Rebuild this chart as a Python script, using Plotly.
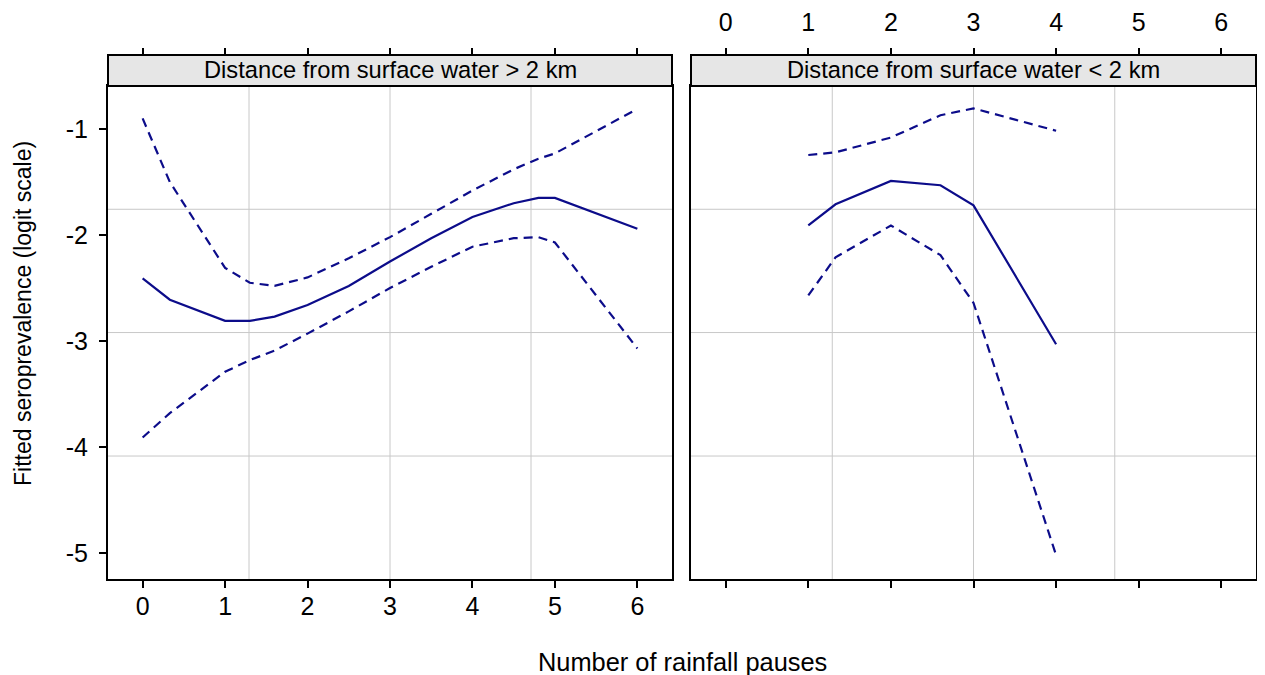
import plotly.graph_objects as go

# ---- data ----
panel_titles = ["Distance from surface water > 2 km", "Distance from surface water < 2 km"]

far_x = [0, 0.33, 1, 1.3, 1.6, 2, 2.5, 3, 3.5, 4, 4.5, 4.8, 5, 6]
far_fit = [-2.41, -2.61, -2.81, -2.81, -2.77, -2.66, -2.48, -2.25, -2.03, -1.83, -1.70, -1.65, -1.65, -1.94]
far_upper = [-0.90, -1.50, -2.31, -2.45, -2.48, -2.40, -2.22, -2.02, -1.80, -1.58, -1.38, -1.28, -1.23, -0.81]
far_lower = [-3.91, -3.68, -3.29, -3.18, -3.09, -2.93, -2.72, -2.50, -2.30, -2.11, -2.03, -2.02, -2.07, -3.07]

near_x = [1, 1.33, 2, 2.6, 3, 4]
near_fit = [-1.91, -1.71, -1.49, -1.53, -1.72, -3.03]
near_upper = [-1.245, -1.22, -1.08, -0.87, -0.805, -1.016]
near_lower = [-2.57, -2.21, -1.91, -2.19, -2.64, -5.02]

x_ticks = [0, 1, 2, 3, 4, 5, 6]
y_ticks = [-5, -4, -3, -2, -1]
y_tick_labels = ["-5", "-4", "-3", "-2", "-1"]
ref_x = [1.29, 3.0, 4.71]
ref_y = [-1.757, -2.92, -4.085]

x_title = "Number of rainfall pauses"
y_title = "Fitted seroprevalence (logit scale)"

# ---- styling ----
OFF = 8                       # page body margin
W, H = 1265 - OFF, 675 - OFF
LINE = "#0c0c8a"
FONT = "Liberation Sans, Arial, sans-serif"
XR = [-0.42, 6.42]
YR = [-5.245, -0.594]


def px(x):
    return (x - OFF) / W


def py(y):
    return 1 - (y - OFF) / H


L_DOM = [px(108), px(672)]
R_DOM = [px(691), px(1256)]
Y_DOM = [py(579), py(86)]
STRIP_TOP = py(55)

fig = go.Figure()


def add_panel(xs, fit, up, lo, xa, ya):
    for ys, dash in ((up, "9px,6px"), (lo, "9px,6px"), (fit, "solid")):
        fig.add_trace(go.Scatter(x=xs, y=ys, mode="lines", xaxis=xa, yaxis=ya,
                                 line=dict(color=LINE, width=2.2, dash=dash),
                                 showlegend=False, hoverinfo="skip"))


add_panel(far_x, far_fit, far_upper, far_lower, "x", "y")
add_panel(near_x, near_fit, near_upper, near_lower, "x2", "y2")
# dummy traces so the top (strip-level) axes are drawn
fig.add_trace(go.Scatter(x=[], y=[], xaxis="x3", yaxis="y", showlegend=False))
fig.add_trace(go.Scatter(x=[], y=[], xaxis="x4", yaxis="y2", showlegend=False))

tickfont = dict(family=FONT, size=25, color="black")
common_x = dict(range=XR, tickvals=x_ticks, ticks="outside", ticklen=7, tickwidth=2,
                tickcolor="black", showgrid=False, zeroline=False, tickfont=tickfont)

fig.update_layout(
    width=W, height=H, margin=dict(l=0, r=0, t=0, b=0),
    paper_bgcolor="white", plot_bgcolor="white",
    xaxis=dict(domain=L_DOM, anchor="y", showline=True, linecolor="black", linewidth=2,
               mirror=True, ticklabelstandoff=-3, **common_x),
    xaxis2=dict(domain=R_DOM, anchor="y2", showline=True, linecolor="black", linewidth=2,
                mirror=True, showticklabels=False, **common_x),
    xaxis3=dict(overlaying="x", anchor="free", position=STRIP_TOP, side="top",
                showline=False, showticklabels=False, **common_x),
    xaxis4=dict(overlaying="x2", anchor="free", position=STRIP_TOP, side="top",
                showline=False, showticklabels=True, ticklabelstandoff=7, **common_x),
    yaxis=dict(domain=Y_DOM, anchor="x", range=YR, tickvals=y_ticks, ticktext=y_tick_labels,
               ticks="outside", ticklen=7, tickwidth=2, tickcolor="black", showline=True,
               linecolor="black", linewidth=2, mirror=True, showgrid=False, zeroline=False,
               tickfont=tickfont, ticklabelstandoff=6),
    yaxis2=dict(domain=Y_DOM, anchor="x2", range=YR, tickvals=y_ticks, side="right",
                ticks="outside", ticklen=7, tickwidth=2, tickcolor="black", showline=True,
                linecolor="black", linewidth=2, mirror=True, showgrid=False, zeroline=False,
                showticklabels=False),
)

shapes = []
for xa, ya in (("x", "y"), ("x2", "y2")):
    for v in ref_x:
        shapes.append(dict(type="line", xref=xa, yref=ya + " domain", x0=v, x1=v, y0=0, y1=1,
                           line=dict(color="#c8c8c8", width=1), layer="below"))
    for v in ref_y:
        shapes.append(dict(type="line", xref=xa + " domain", yref=ya, x0=0, x1=1, y0=v, y1=v,
                           line=dict(color="#c8c8c8", width=1), layer="below"))
annotations = []
for dom, title in ((L_DOM, panel_titles[0]), (R_DOM, panel_titles[1])):
    shapes.append(dict(type="rect", xref="paper", yref="paper", x0=dom[0], x1=dom[1],
                       y0=Y_DOM[1], y1=STRIP_TOP, fillcolor="#e6e6e6",
                       line=dict(color="black", width=2), layer="above"))
    annotations.append(dict(text=title, xref="paper", yref="paper", x=(dom[0] + dom[1]) / 2,
                            y=(Y_DOM[1] + STRIP_TOP) / 2, showarrow=False, xanchor="center",
                            yanchor="middle", font=dict(family=FONT, size=23.7, color="black")))

annotations.append(dict(text=x_title, xref="paper", yref="paper", x=px(682), y=py(662),
                        showarrow=False, xanchor="center", yanchor="middle",
                        font=dict(family=FONT, size=25.4, color="black")))
annotations.append(dict(text=y_title, xref="paper", yref="paper", x=px(23), y=py(314),
                        showarrow=False, xanchor="center", yanchor="middle", textangle=-90,
                        font=dict(family=FONT, size=23, color="black")))

fig.update_layout(shapes=shapes, annotations=annotations)
fig.write_html("out.html")
